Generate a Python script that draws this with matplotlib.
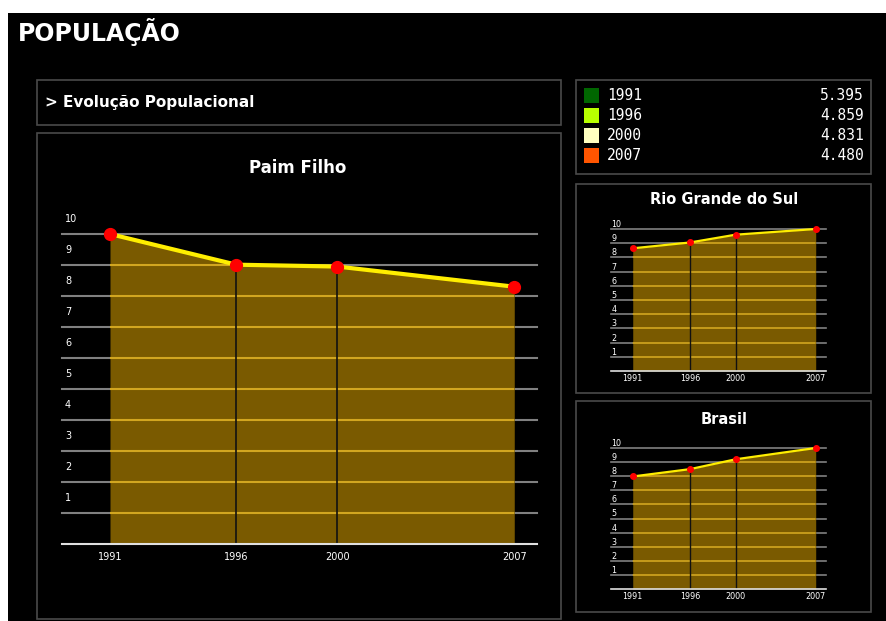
import matplotlib
matplotlib.use("Agg")
import matplotlib.pyplot as plt
from matplotlib.patches import Rectangle, Polygon

# Data (index, max = 10)
YEARS = [1991, 1996, 2000, 2007]
PAIM_FILHO = [10.0, 9.01, 8.95, 8.30]
RIO_GRANDE_DO_SUL = [8.64, 9.05, 9.60, 10.0]
BRASIL = [7.98, 8.50, 9.20, 10.0]

LEGEND_YEARS = ["1991", "1996", "2000", "2007"]
LEGEND_VALUES = ["5.395", "4.859", "4.831", "4.480"]
LEGEND_COLORS = ["#006600", "#b8ff00", "#ffffc0", "#ff5500"]

Y_TICKS = list(range(1, 11))

W, H = 886, 621
BG = "#000000"
BORDER = "#4a4a4a"
FILL = "#7a5a00"
GRID_OUT = "#808080"
GRID_IN = "#d2a620"


def px_axes(fig, left, right, top, bottom, **kw):
    return fig.add_axes([left / W, 1 - bottom / H, (right - left) / W, (bottom - top) / H], **kw)


def area_chart(fig, box, values, big=True):
    ax = px_axes(fig, *box)
    ax.set_facecolor("none")
    ax.set_xlim(1989.1, 2007.9)
    ax.set_ylim(0, 10)
    for s in ax.spines.values():
        s.set_visible(False)
    ax.set_xticks([])
    ax.set_yticks([])

    lw_grid = 1.5 if big else 1.2
    for v in Y_TICKS:
        ax.axhline(v, color=GRID_OUT, lw=lw_grid, zorder=1, clip_on=False)
    ax.axhline(0, color="#e0e0e0", lw=lw_grid, zorder=4, clip_on=False)

    ax.fill_between(YEARS, 0, values, color=FILL, lw=0, zorder=2)
    poly = Polygon(list(zip(YEARS, values)) + [(YEARS[-1], 0), (YEARS[0], 0)],
                   closed=True, transform=ax.transData, facecolor="none", edgecolor="none")
    ax.add_patch(poly)
    for v in Y_TICKS:
        ln = ax.axhline(v, color=GRID_IN, lw=lw_grid, zorder=3)
        ln.set_clip_path(poly)

    for yr, v in zip(YEARS[1:-1], values[1:-1]):
        ax.plot([yr, yr], [0, v], color="#111111", lw=1.2 if big else 1.0, zorder=3)

    ax.plot(YEARS, values, color="#ffee00", lw=3 if big else 1.6, zorder=5, clip_on=False)
    ax.plot(YEARS, values, "o", color="#ff0000", ms=8.5 if big else 4, mec="#ff0000",
            zorder=6, clip_on=False)

    fs = 7 if big else 5.8
    off = 0.47 if big else 0.32
    for v in Y_TICKS:
        ax.text(1989.1 + (0.12 if big else 0.05), v + off, str(v), color="white",
                fontsize=fs, ha="left", va="center", zorder=7)
    for yr in YEARS:
        ax.text(yr, -0.42 if big else -0.5, str(yr), color="white", fontsize=fs,
                ha="center", va="center", clip_on=False)
    return ax


fig = plt.figure(figsize=(W / 100, H / 100), dpi=100)
fig.patch.set_facecolor("white")

# background layer in pixel coordinates
bg = fig.add_axes([0, 0, 1, 1])
bg.set_xlim(0, W)
bg.set_ylim(H, 0)
bg.axis("off")
bg.add_patch(Rectangle((8, 13), W - 8, H - 13, facecolor=BG, edgecolor="none"))
for x0, y0, x1, y1 in [(37, 80, 561, 125), (37, 133, 561, 619),
                       (576, 80, 871, 174), (576, 184, 871, 393), (576, 401, 871, 612)]:
    bg.add_patch(Rectangle((x0, y0), x1 - x0, y1 - y0, facecolor="none",
                           edgecolor=BORDER, lw=1.2))

bg.text(18, 32, "POPULAÇÃO", color="white", fontsize=17, fontweight="bold",
        ha="left", va="center")
bg.text(45, 103, "> Evolução Populacional", color="white", fontsize=11,
        fontweight="bold", ha="left", va="center")
bg.text(298, 168, "Paim Filho", color="white", fontsize=12, fontweight="bold",
        ha="center", va="center")
bg.text(724, 200, "Rio Grande do Sul", color="white", fontsize=10.5, fontweight="bold",
        ha="center", va="center")
bg.text(724, 419, "Brasil", color="white", fontsize=10.5, fontweight="bold",
        ha="center", va="center")

for i, (yr, val, col) in enumerate(zip(LEGEND_YEARS, LEGEND_VALUES, LEGEND_COLORS)):
    yc = 96 + i * 20
    bg.add_patch(Rectangle((584, yc - 8), 15, 15, facecolor=col, edgecolor="none"))
    bg.text(607, yc, yr, color="white", fontsize=10.5, family="DejaVu Sans Mono",
            ha="left", va="center")
    bg.text(864, yc, val, color="white", fontsize=10.5, family="DejaVu Sans Mono",
            ha="right", va="center")

area_chart(fig, (62, 537, 234, 544), PAIM_FILHO, big=True)
area_chart(fig, (611, 826, 229, 371), RIO_GRANDE_DO_SUL, big=False)
area_chart(fig, (611, 826, 448, 589), BRASIL, big=False)

fig.savefig("out.png", dpi=100, facecolor=fig.get_facecolor())
